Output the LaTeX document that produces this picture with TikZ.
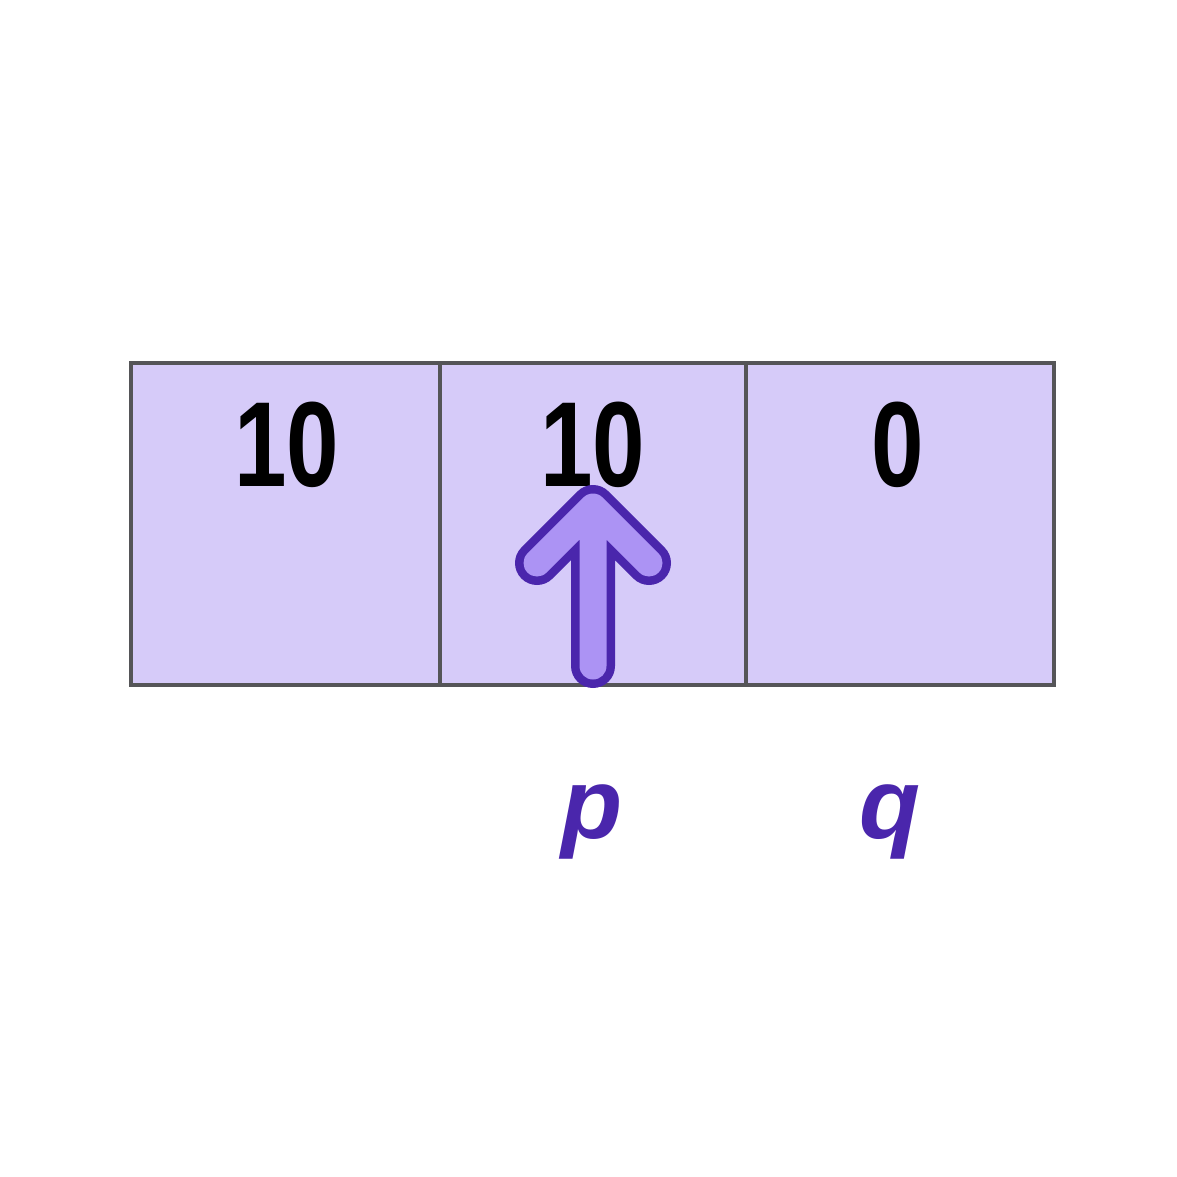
\documentclass[tikz,border=0pt]{standalone}
\usepackage{fontspec}
\setmainfont{Liberation Sans}
\definecolor{cellfill}{RGB}{214,203,249}
\definecolor{cellline}{RGB}{85,85,88}
\definecolor{arrowfill}{RGB}{172,147,244}
\definecolor{arrowline}{RGB}{74,38,172}
\tikzset{
  cell/.style={draw=cellline, fill=cellfill, line width=4pt, minimum height=322pt, inner sep=0pt, outer sep=0pt},
  digit/.style={inner sep=0pt, font=\fontsize{121}{121}\selectfont\bfseries, xscale=0.78},
  ptr/.style={inner sep=0pt, text=arrowline, font=\fontsize{100}{100}\selectfont\bfseries\itshape, anchor=base},
}
\begin{document}
\begin{tikzpicture}[x=1pt,y=-1pt]
\useasboundingbox (0,0) rectangle (1177,1177);
\fill[white] (0,0) rectangle (1177,1177);
\node[cell, minimum width=309pt] (c1) at (285.5,524) {};
\node[cell, minimum width=306pt] (c2) at (593,524) {};
\node[cell, minimum width=308pt] (c3) at (900,524) {};
\node[digit] (d1) at (287,445) {10};
\node[digit] (d2) at (593,445) {10};
\node[digit] (d3) at (898,445) {0};
% pointer arrow
\coordinate (tip) at (593,507);
\coordinate (base) at (593,666);
\coordinate (la) at (537,563);
\coordinate (ra) at (649,563);
\draw[arrowline, line width=44pt, line cap=round, line join=round] (base) -- (tip) (la) -- (tip) -- (ra);
\draw[arrowfill, line width=27pt, line cap=round, line join=round] (base) -- (tip) (la) -- (tip) -- (ra);
\node[ptr] (p) at (592,838) {p};
\node[ptr] (q) at (890,838) {q};
\end{tikzpicture}
\end{document}
